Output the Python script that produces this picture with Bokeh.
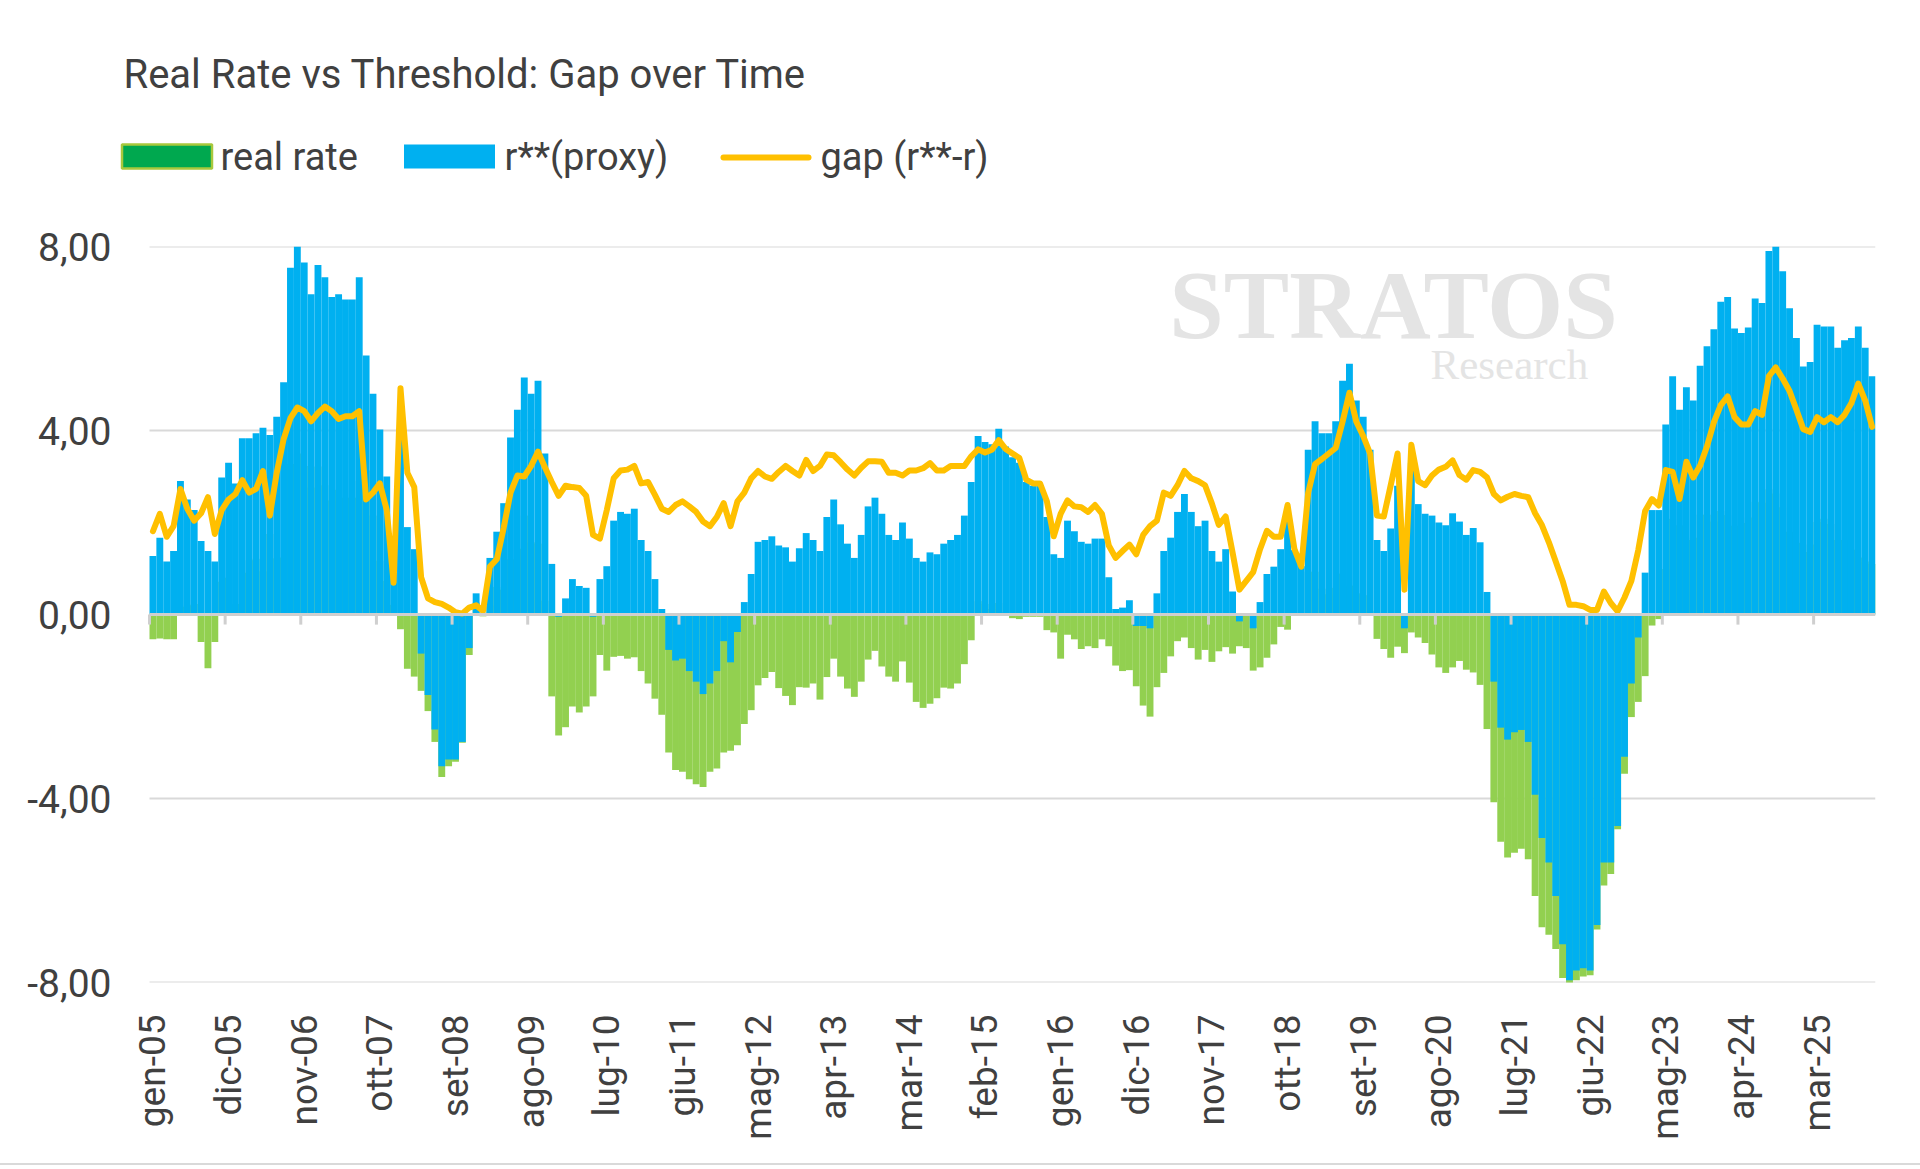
import math
from bokeh.plotting import figure
from bokeh.layouts import column
from bokeh.models import Range1d, FixedTicker, ColumnDataSource
from bokeh.core.properties import value
from bokeh.embed import file_html
from bokeh.resources import INLINE

# ---------------- data (monthly, gen-05 ... nov-25) ----------------
RSTAR = [
    1.27, 1.67, 1.15, 1.38, 2.90, 2.50, 2.27, 1.60, 1.38, 1.15,
    2.98, 3.30, 2.85, 3.83, 3.83, 3.94, 4.06, 3.90, 4.30, 5.05,
    7.54, 8.00, 7.65, 6.96, 7.60, 7.33, 6.90, 6.96, 6.85, 6.85,
    7.33, 5.63, 4.80, 4.02, 3.00, 0.90, 4.60, 1.90, 1.42, -0.85,
    -1.75, -2.50, -3.30, -3.15, -3.15, -2.77, -0.73, 0.46, 0.04, 1.23,
    1.80, 2.42, 3.85, 4.45, 5.15, 4.80, 5.08, 3.50, 1.10, -0.05,
    0.35, 0.77, 0.62, 0.58, -0.05, 0.77, 1.05, 2.04, 2.23, 2.19,
    2.30, 1.62, 1.38, 0.77, 0.12, -0.77, -1.00, -0.96, -1.23, -1.46,
    -1.73, -1.50, -1.23, -0.58, -1.04, -0.38, 0.27, 0.88, 1.58, 1.62,
    1.70, 1.50, 1.46, 1.15, 1.44, 1.77, 1.62, 1.38, 2.12, 2.50,
    1.96, 1.54, 1.23, 1.73, 2.35, 2.54, 2.19, 1.73, 1.62, 2.00,
    1.65, 1.23, 1.15, 1.35, 1.31, 1.54, 1.62, 1.73, 2.15, 2.88,
    3.88, 3.75, 3.70, 4.04, 3.65, 3.42, 3.30, 2.88, 2.80, 2.80,
    2.12, 1.31, 1.23, 2.04, 1.81, 1.58, 1.54, 1.65, 1.65, 0.81,
    0.12, 0.15, 0.31, -0.25, -0.25, -0.30, 0.46, 1.38, 1.67, 2.23,
    2.62, 2.23, 1.92, 2.04, 1.38, 1.15, 1.42, 0.50, -0.15, 0.00,
    -0.30, 0.27, 0.88, 1.04, 1.42, 2.05, 1.40, 1.05, 3.58, 4.20,
    3.94, 3.94, 4.20, 5.08, 5.45, 4.65, 4.30, 3.58, 1.62, 1.38,
    1.87, 2.80, -0.30, 3.30, 2.40, 2.19, 2.15, 2.00, 1.94, 2.20,
    2.02, 1.73, 1.88, 1.57, 0.49, -1.46, -2.46, -2.72, -2.56, -2.51,
    -2.77, -3.92, -4.86, -5.39, -6.12, -7.17, -7.95, -7.74, -7.69, -7.74,
    -6.75, -5.39, -5.39, -4.60, -3.09, -1.50, -0.50, 0.91, 2.27, 2.27,
    4.13, 5.18, 4.45, 4.94, 4.65, 5.41, 5.83, 6.20, 6.80, 6.90,
    6.22, 6.12, 6.24, 6.87, 6.77, 7.90, 8.00, 7.46, 6.66, 6.01,
    5.39, 5.49, 6.30, 6.26, 6.26, 5.80, 5.96, 6.01, 6.26, 5.80,
    5.18,
]

GAP = [
    1.81, 2.19, 1.69, 1.92, 2.73, 2.30, 2.04, 2.20, 2.55, 1.75,
    2.27, 2.50, 2.62, 2.92, 2.65, 2.73, 3.12, 2.15, 3.08, 3.81,
    4.27, 4.50, 4.42, 4.20, 4.38, 4.52, 4.42, 4.25, 4.31, 4.31,
    4.42, 2.50, 2.65, 2.85, 2.27, 0.69, 4.92, 3.08, 2.77, 0.81,
    0.35, 0.27, 0.23, 0.15, 0.05, 0.02, 0.15, 0.20, 0.08, 1.04,
    1.20, 1.88, 2.65, 3.02, 3.00, 3.23, 3.54, 3.20, 2.88, 2.58,
    2.80, 2.77, 2.75, 2.58, 1.73, 1.65, 2.27, 2.96, 3.13, 3.15,
    3.23, 2.85, 2.88, 2.60, 2.30, 2.23, 2.38, 2.46, 2.35, 2.23,
    2.02, 1.92, 2.12, 2.42, 1.92, 2.46, 2.65, 2.96, 3.12, 3.00,
    2.95, 3.10, 3.23, 3.12, 3.02, 3.36, 3.12, 3.23, 3.48, 3.46,
    3.31, 3.15, 3.02, 3.19, 3.33, 3.33, 3.32, 3.08, 3.08, 3.02,
    3.13, 3.13, 3.18, 3.29, 3.13, 3.13, 3.23, 3.23, 3.23, 3.44,
    3.59, 3.52, 3.58, 3.79, 3.60, 3.50, 3.40, 2.93, 2.85, 2.85,
    2.46, 1.70, 2.19, 2.48, 2.35, 2.33, 2.23, 2.38, 2.19, 1.50,
    1.23, 1.38, 1.52, 1.31, 1.73, 1.92, 2.04, 2.65, 2.58, 2.81,
    3.12, 2.96, 2.90, 2.81, 2.41, 1.95, 2.13, 1.35, 0.54, 0.73,
    0.92, 1.42, 1.82, 1.69, 1.69, 2.38, 1.42, 1.04, 2.65, 3.27,
    3.38, 3.50, 3.62, 4.19, 4.82, 4.19, 3.88, 3.50, 2.15, 2.13,
    2.81, 3.50, 0.54, 3.69, 2.90, 2.81, 3.02, 3.15, 3.21, 3.35,
    3.03, 2.93, 3.14, 3.10, 2.98, 2.62, 2.48, 2.56, 2.62, 2.58,
    2.55, 2.20, 1.94, 1.57, 1.15, 0.73, 0.21, 0.21, 0.18, 0.10,
    0.10, 0.50, 0.25, 0.07, 0.37, 0.73, 1.40, 2.25, 2.51, 2.37,
    3.14, 3.10, 2.51, 3.32, 2.98, 3.24, 3.66, 4.18, 4.55, 4.74,
    4.29, 4.13, 4.13, 4.42, 4.34, 5.18, 5.37, 5.13, 4.86, 4.45,
    4.03, 3.97, 4.29, 4.18, 4.29, 4.18, 4.34, 4.60, 5.02, 4.65,
    4.08,
]

REAL_RATE = [
    -0.54, -0.52, -0.54, -0.54, 0.17, 0.20, 0.23, -0.60, -1.17, -0.60,
    0.71, 0.80, 0.23, 0.91, 1.18, 1.21, 0.94, 1.75, 1.22, 1.24,
    3.27, 3.50, 3.23, 2.76, 3.22, 2.81, 2.48, 2.71, 2.54, 2.54,
    2.91, 3.13, 2.15, 1.17, 0.73, 0.21, -0.32, -1.18, -1.35, -1.66,
    -2.10, -2.77, -3.53, -3.30, -3.20, -2.79, -0.88, 0.26, -0.04, 0.19,
    0.60, 0.54, 1.20, 1.43, 2.15, 1.57, 1.54, 0.30, -1.78, -2.63,
    -2.45, -2.00, -2.13, -2.00, -1.78, -0.88, -1.22, -0.92, -0.90, -0.96,
    -0.93, -1.23, -1.50, -1.83, -2.18, -3.00, -3.38, -3.42, -3.58, -3.69,
    -3.75, -3.42, -3.35, -3.00, -2.96, -2.84, -2.38, -2.08, -1.54, -1.38,
    -1.25, -1.60, -1.77, -1.97, -1.58, -1.59, -1.50, -1.85, -1.36, -0.96,
    -1.35, -1.61, -1.79, -1.46, -0.98, -0.79, -1.13, -1.35, -1.46, -1.02,
    -1.48, -1.90, -2.03, -1.94, -1.82, -1.59, -1.61, -1.50, -1.08, -0.56,
    0.29, 0.23, 0.12, 0.25, 0.05, -0.08, -0.10, -0.05, -0.05, -0.05,
    -0.34, -0.39, -0.96, -0.44, -0.54, -0.75, -0.69, -0.73, -0.54, -0.69,
    -1.11, -1.23, -1.21, -1.56, -1.98, -2.22, -1.58, -1.27, -0.91, -0.58,
    -0.50, -0.73, -0.98, -0.77, -1.03, -0.80, -0.71, -0.85, -0.69, -0.73,
    -1.22, -1.15, -0.94, -0.65, -0.27, -0.33, -0.02, 0.01, 0.93, 0.93,
    0.56, 0.44, 0.58, 0.89, 0.63, 0.46, 0.42, 0.08, -0.53, -0.75,
    -0.94, -0.70, -0.84, -0.39, -0.50, -0.62, -0.87, -1.15, -1.27, -1.15,
    -1.01, -1.20, -1.26, -1.53, -2.49, -4.08, -4.94, -5.28, -5.18, -5.09,
    -5.32, -6.12, -6.80, -6.96, -7.27, -7.90, -8.16, -7.95, -7.87, -7.84,
    -6.85, -5.89, -5.64, -4.67, -3.46, -2.23, -1.90, -1.34, -0.24, -0.10,
    0.99, 2.08, 1.94, 1.62, 1.67, 2.17, 2.17, 2.02, 2.25, 2.16,
    1.93, 1.99, 2.11, 2.45, 2.43, 2.72, 2.63, 2.33, 1.80, 1.56,
    1.36, 1.52, 2.01, 2.08, 1.97, 1.62, 1.62, 1.41, 1.24, 1.15,
    1.10,
]

X_TICK_LABELS = ["gen-05", "dic-05", "nov-06", "ott-07", "set-08", "ago-09",
                 "lug-10", "giu-11", "mag-12", "apr-13", "mar-14", "feb-15",
                 "gen-16", "dic-16", "nov-17", "ott-18", "set-19", "ago-20",
                 "lug-21", "giu-22", "mag-23", "apr-24", "mar-25"]
LABEL_STEP = 11  # one label every 11 months
Y_TICKS = [-8, -4, 0, 4, 8]
Y_TICK_LABELS = ["-8,00", "-4,00", "0,00", "4,00", "8,00"]

TITLE = "Real Rate vs Threshold: Gap over Time"
SERIES_NAMES = ["real rate", "r**(proxy)", "gap (r**-r)"]

# ---------------- styling / layout ----------------
GREEN = "#92D050"
BLUE = "#00B0F0"
GOLD = "#FFC000"
GRID = "#D9D9D9"
TXT = "#404040"
FONT = "Roboto"

W = 1920
HEADER_H = 216
FRAME_L = 115          # frame starts here (y labels end just before it)
BARS_L = 149           # first bar's left edge
BARS_R = 1875          # last bar's right edge

n = len(RSTAR)
idx = list(range(n))
px_per_month = (BARS_R - BARS_L) / n
x_start = -0.5 - (BARS_L - FRAME_L) / px_per_month
x_tick_pos = [k * LABEL_STEP for k in range(len(X_TICK_LABELS))]
tick_mark_pos = [t - 0.5 for t in x_tick_pos]
grid_y = [t for t in Y_TICKS if t != 0]

# ---------------- header: title + legend ----------------
hdr = figure(width=W, height=HEADER_H, x_range=Range1d(FRAME_L, BARS_R),
             y_range=Range1d(HEADER_H, 0),
             x_axis_type=None, y_axis_type=None, min_border=0,
             output_backend="svg", toolbar_location=None,
             background_fill_color="white", border_fill_color="white")
hdr.outline_line_color = None
hdr.xgrid.visible = False
hdr.ygrid.visible = False

hdr.text(x=[123], y=[73.5], text=[TITLE], text_font=value(FONT), text_font_size="40px",
         text_color=TXT, text_align="left", text_baseline="alphabetic")

hdr.rect(x=[166.5], y=[156], width=90, height=24, fill_color="#00A84F",
         line_color="#A8C83C", line_width=2.5)
hdr.rect(x=[449], y=[156], width=91, height=24, fill_color=BLUE, line_color=None)
hdr.line(x=[723, 808], y=[157, 157], line_color=GOLD, line_width=6, line_cap="round")
hdr.text(x=[220, 504, 820], y=[156, 156, 156], text=SERIES_NAMES,
         text_font=value(FONT), text_font_size="38px", text_color=TXT,
         text_align="left", text_baseline="middle")

# ---------------- main chart ----------------
src = ColumnDataSource(dict(x=idx, rstar=RSTAR, real=REAL_RATE, gap=GAP))

p = figure(frame_width=BARS_R - FRAME_L, frame_height=734,
           min_border_left=FRAME_L, min_border_right=W - BARS_R,
           min_border_top=30, min_border_bottom=183,
           x_range=Range1d(x_start, n - 0.5), y_range=Range1d(-8, 8),
           output_backend="svg", toolbar_location=None,
           background_fill_color="white", border_fill_color="white")
p.outline_line_color = None
p.styles = {"border-bottom": "2px solid #D9D9D9"}

p.xgrid.visible = False
p.ygrid.ticker = FixedTicker(ticks=Y_TICKS)
p.ygrid.grid_line_color = None

# watermark
p.text(x=[147.8], y=[6.73], text=["STRATOS"], text_font=value("Liberation Serif"),
       text_font_style="bold", text_font_size="98px", text_color="#E4E4E4",
       text_align="left", text_baseline="alphabetic")
p.text(x=[185.8], y=[5.43], text=["Research"], text_font=value("Liberation Serif"),
       text_font_size="43px", text_color="#E4E4E4",
       text_align="left", text_baseline="alphabetic")

# horizontal gridlines spanning the bar area only
p.segment(x0=[-0.5] * len(grid_y), y0=grid_y, x1=[n - 0.5] * len(grid_y), y1=grid_y,
          line_color=GRID, line_width=2)

p.vbar(x="x", top="real", width=1.0, source=src, fill_color=GREEN, line_color=None)
p.vbar(x="x", top="rstar", width=1.0, source=src, fill_color=BLUE, line_color=None)
p.line(x="x", y="gap", source=src, line_color=GOLD, line_width=6,
       line_join="round", line_cap="round")

# zero line and category tick marks
p.segment(x0=[-0.5], y0=[0], x1=[n - 0.5], y1=[0], line_color="#CFCFCF", line_width=3)
p.segment(x0=tick_mark_pos, y0=[0] * len(tick_mark_pos),
          x1=tick_mark_pos, y1=[-0.22] * len(tick_mark_pos),
          line_color="#CFCFCF", line_width=3)

xa = p.xaxis[0]
xa.ticker = FixedTicker(ticks=x_tick_pos)
xa.major_label_overrides = {pos: lab for pos, lab in zip(x_tick_pos, X_TICK_LABELS)}
xa.major_label_orientation = math.pi / 2
xa.axis_line_color = None
xa.major_tick_line_color = None
xa.minor_tick_line_color = None
xa.major_tick_out = 0
xa.major_tick_in = 0
xa.major_label_standoff = 32
xa.major_label_text_font = FONT
xa.major_label_text_font_size = "37px"
xa.major_label_text_color = TXT

ya = p.yaxis[0]
ya.ticker = FixedTicker(ticks=Y_TICKS)
ya.major_label_overrides = {t: lab for t, lab in zip(Y_TICKS, Y_TICK_LABELS)}
ya.axis_line_color = None
ya.major_tick_line_color = None
ya.minor_tick_line_color = None
ya.major_tick_out = 0
ya.major_tick_in = 0
ya.major_label_standoff = 4
ya.major_label_text_font = FONT
ya.major_label_text_font_size = "39px"
ya.major_label_text_color = TXT

layout = column(hdr, p, spacing=0)
open("out.html", "w").write(file_html(layout, INLINE))
